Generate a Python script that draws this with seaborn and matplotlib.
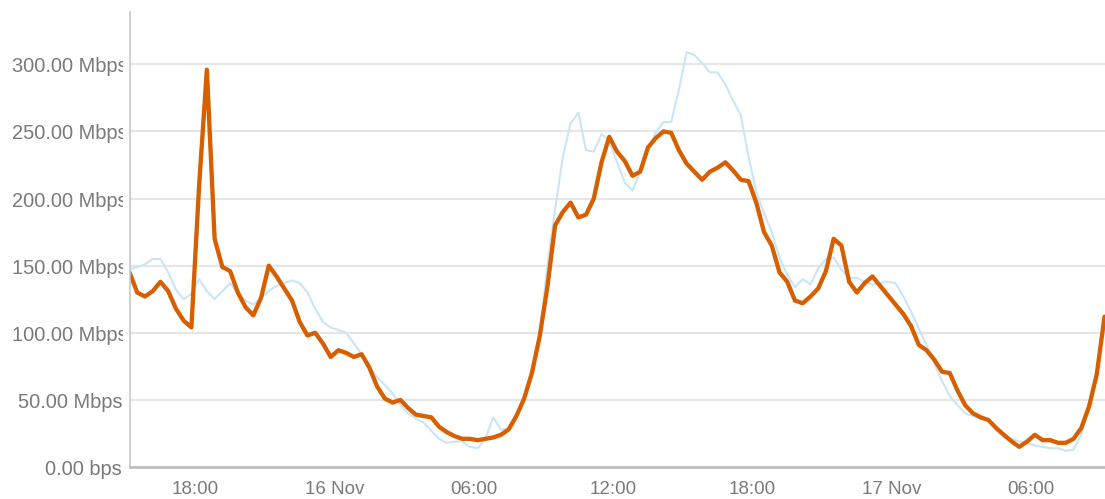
import pandas as pd
import numpy as np
import seaborn as sns
import matplotlib.pyplot as plt
import matplotlib.dates as mdates
from matplotlib.ticker import FuncFormatter
from matplotlib.transforms import Bbox, ScaledTranslation, IdentityTransform, TransformedBbox

# ------------------------------
# Traffic data (Mbps, one sample every 20 min)
# ------------------------------
start_time = "2023-11-15 15:10"
sample_freq = "20min"

traffic_in = [
    145, 130, 127, 131, 138, 131, 118, 109, 104, 210,
    296, 170, 149, 146, 130, 119, 113, 126, 150, 142,
    133, 124, 108, 98, 100, 92, 82, 87, 85, 82,
    84, 74, 60, 51, 48, 50, 44, 39, 38, 37,
    30, 26, 23, 21, 21, 20, 21, 22, 24, 28,
    38, 51, 70, 97, 134, 180, 190, 197, 186, 188,
    200, 227, 246, 235, 228, 217, 220, 238, 245, 250,
    249, 236, 226, 220, 214, 220, 223, 227, 221, 214,
    213, 197, 175, 165, 145, 138, 124, 122, 127, 133,
    146, 170, 165, 138, 130, 137, 142, 135, 128, 121,
    114, 105, 91, 87, 80, 71, 70, 57, 46, 40,
    37, 35, 29, 24, 19, 15, 19, 24, 20, 20,
    18, 18, 21, 29, 45, 69, 112,
]

traffic_out = [
    147, 149, 151, 155, 155, 145, 132, 125, 129, 140,
    131, 125, 131, 137, 129, 124, 121, 126, 131, 135,
    137, 139, 137, 130, 118, 108, 104, 102, 100, 92,
    84, 74, 67, 61, 55, 46, 40, 36, 33, 27,
    21, 18, 19, 19, 15, 14, 21, 37, 28, 28,
    36, 50, 68, 97, 150, 192, 231, 256, 264, 236,
    235, 248, 243, 227, 212, 206, 220, 237, 249, 257,
    257, 281, 309, 307, 301, 294, 294, 285, 273, 262,
    231, 205, 189, 175, 156, 143, 134, 140, 136, 148,
    155, 156, 147, 141, 141, 138, 136, 137, 138, 137,
    127, 116, 103, 91, 77, 64, 53, 46, 40, 38,
    36, 35, 28, 22, 21, 19, 18, 16, 15, 14,
    14, 12, 13, 24, 45, 69, 112,
]

y_ticks = [0, 50, 100, 150, 200, 250, 300]
y_max = 339

times = pd.date_range(start_time, periods=len(traffic_in), freq=sample_freq)
df = pd.DataFrame({"time": times, "in": traffic_in, "out": traffic_out})

# ------------------------------
# Figure
# ------------------------------
sns.set_style("white")
plt.rcParams["font.family"] = ["Liberation Sans", "DejaVu Sans"]

W, H = 1105, 499
fig = plt.figure(figsize=(W / 100, H / 100), dpi=100)
ax = fig.add_axes([129.5 / W, 32 / H, (1104.5 - 129.5) / W, 455 / H])

sns.lineplot(data=df, x="time", y="out", color="#c9e5f7", lw=1.5, ax=ax)
sns.lineplot(data=df, x="time", y="in", color="#d65f00", lw=3.1, ax=ax)

ax.set_xlim(times[0], times[-1])
ax.set_ylim(0, y_max)
ax.set_xlabel("")
ax.set_ylabel("")

# grid + spines
ax.set_yticks(y_ticks)
ax.yaxis.grid(True, color="#e6e6e6", lw=1.5)
ax.xaxis.grid(False)
ax.set_axisbelow(True)
for s in ["top", "right"]:
    ax.spines[s].set_visible(False)
ax.spines["left"].set_color("#c8c8c8")
ax.spines["left"].set_linewidth(1.2)
ax.spines["bottom"].set_color("#bfbfbf")
ax.spines["bottom"].set_linewidth(2.0)

# x ticks: every 6 hours, midnight shows the date
def fmt_time(x, pos):
    d = mdates.num2date(x)
    if d.hour == 0:
        return d.strftime("%d %b")
    return d.strftime("%H:%M")

ax.xaxis.set_major_locator(mdates.HourLocator(byhour=[0, 6, 12, 18]))
ax.xaxis.set_major_formatter(FuncFormatter(fmt_time))
ax.tick_params(axis="x", length=0, pad=10, labelsize=13.5, labelcolor="#7a7a7a")
ax.tick_params(axis="y", length=0, labelleft=False)

# y labels: right aligned, long ones overflow and get cut at the axis
def fmt_rate(v):
    return "0.00 bps" if v == 0 else f"{v:.2f} Mbps"

ytrans = ax.get_yaxis_transform()
clip = TransformedBbox(Bbox([[0, 0], [123, H]]), IdentityTransform())
fig.canvas.draw()
renderer = fig.canvas.get_renderer()
for v in y_ticks:
    off = ScaledTranslation(-(129.5 - 122) / 100, -2.5 / 100, fig.dpi_scale_trans)
    t = ax.text(0, v, fmt_rate(v), transform=ytrans + off, ha="right", va="center",
                fontsize=14.4, color="#7a7a7a", clip_on=True)
    ext = t.get_window_extent(renderer)
    if ext.x0 < 12:
        off = ScaledTranslation(-(129.5 - 12) / 100, -2.5 / 100, fig.dpi_scale_trans)
        t.set_transform(ytrans + off)
        t.set_ha("left")
    t.set_clip_box(clip)

fig.savefig("out.png", dpi=100)
